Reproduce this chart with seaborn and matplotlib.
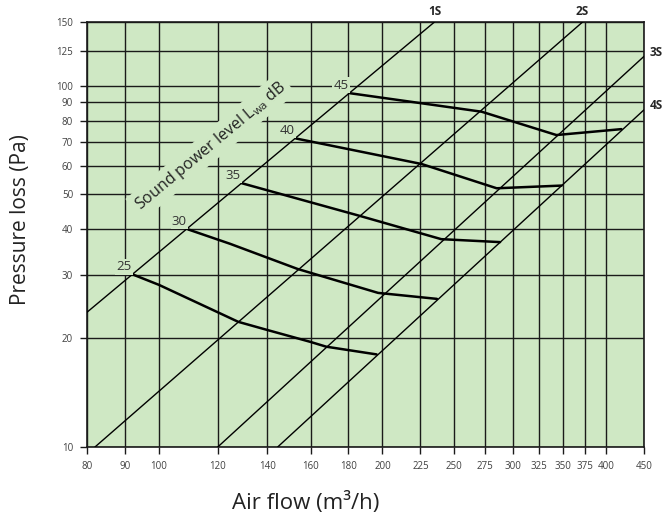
import numpy as np
import pandas as pd
import seaborn as sns
import matplotlib
matplotlib.use("Agg")
import matplotlib.pyplot as plt

# sound power level curves (air flow m3/h, pressure loss Pa)
levels = [25, 30, 35, 40, 45]
flow_25 = [92.3, 100, 120, 127.9, 139.7, 159.8, 168, 196.4]
loss_25 = [30.0, 28.1, 23.6, 22.2, 21.1, 19.55, 18.95, 18.04]
flow_30 = [109.5, 124.7, 153.7, 197.3, 236.8]
loss_30 = [40.0, 36.5, 31.1, 26.7, 25.7]
flow_35 = [129.3, 186.5, 240, 288]
loss_35 = [53.7, 43.6, 37.6, 36.9]
flow_40 = [153, 225.8, 285, 348.6]
loss_40 = [71.4, 60.7, 52.0, 52.9]
flow_45 = [180.8, 272, 343, 419.6]
loss_45 = [95.3, 84.7, 73.0, 75.8]

# damper setting lines 1S..4S
s_names = ["1S", "2S", "3S", "4S"]
s_flow_start = [80, 82, 120, 144.5]
s_loss_start = [23.6, 10, 10, 10]
s_flow_end = [235, 372, 450, 450]
s_loss_end = [150, 150, 120.5, 85.7]

x_ticks = [80, 90, 100, 120, 140, 160, 180, 200, 225, 250, 275, 300, 325, 350, 375, 400, 450]
y_ticks = [10, 20, 30, 40, 50, 60, 70, 80, 90, 100, 125, 150]

sns.set_style("ticks")
plt.rcParams["font.family"] = ["Open Sans", "DejaVu Sans"]
plt.rcParams["mathtext.fontset"] = "custom"
plt.rcParams["mathtext.rm"] = "Open Sans"
plt.rcParams["mathtext.it"] = "Open Sans:italic"

green = "#cfe8c4"
dark = "#1a1a1a"

fig = plt.figure(figsize=(6.63, 5.23), dpi=100)
ax = fig.add_axes([0.1312, 0.1453, 0.8401, 0.8126])
ax.set_facecolor(green)
ax.set_xscale("log")
ax.set_yscale("log")
ax.set_xlim(80, 450)
ax.set_ylim(10, 150)

for v in x_ticks:
    ax.axvline(v, color=dark, lw=1.0, zorder=1)
for v in y_ticks:
    ax.axhline(v, color=dark, lw=1.0, zorder=1)

# diagonal lines
diag = pd.DataFrame({
    "flow": s_flow_start + s_flow_end,
    "loss": s_loss_start + s_loss_end,
    "line": s_names + s_names,
})
sns.lineplot(data=diag, x="flow", y="loss", hue="line", palette=["black"] * 4,
             estimator=None, sort=False, lw=1.0, legend=False, ax=ax, zorder=3)

curves = pd.DataFrame({
    "flow": flow_25 + flow_30 + flow_35 + flow_40 + flow_45,
    "loss": loss_25 + loss_30 + loss_35 + loss_40 + loss_45,
    "level": [25] * len(flow_25) + [30] * len(flow_30) + [35] * len(flow_35)
             + [40] * len(flow_40) + [45] * len(flow_45),
})
sns.lineplot(data=curves, x="flow", y="loss", hue="level", palette=["black"] * 5,
             estimator=None, sort=False, lw=1.8, legend=False, ax=ax, zorder=4)

for lvl, fx, fy in zip(levels, [flow_25, flow_30, flow_35, flow_40, flow_45],
                       [loss_25, loss_30, loss_35, loss_40, loss_45]):
    ax.annotate(str(lvl), (fx[0], fy[0]), xytext=(-1, 1), textcoords="offset points",
                ha="right", va="bottom", fontsize=9.5, color="#333333", zorder=5,
                bbox=dict(boxstyle="square,pad=0.1", fc=green, ec="none"))

for name, fx, fy in zip(s_names, s_flow_end, s_loss_end):
    if fy >= 150:
        ax.annotate(name, (fx, fy), xytext=(0, 3), textcoords="offset points",
                    ha="center", va="bottom", fontsize=8.5, fontweight="bold",
                    annotation_clip=False)
    else:
        ax.annotate(name, (fx, fy), xytext=(4, 3), textcoords="offset points",
                    ha="left", va="center", fontsize=8.5, fontweight="bold",
                    annotation_clip=False)

ax.text(0.222, 0.708, r"Sound power level L$_{\mathrm{wa}}$ dB", transform=ax.transAxes,
        rotation=39.8, rotation_mode="anchor", ha="center", va="center",
        fontsize=11.5, color="#222222", zorder=5,
        bbox=dict(boxstyle="square,pad=0.25", fc=green, ec="none"))

ax.xaxis.set_minor_locator(matplotlib.ticker.NullLocator())
ax.yaxis.set_minor_locator(matplotlib.ticker.NullLocator())
ax.set_xticks(x_ticks)
ax.set_xticklabels([str(v) for v in x_ticks])
ax.set_yticks(y_ticks)
ax.set_yticklabels([str(v) for v in y_ticks])
ax.tick_params(length=5, width=1, color=dark, labelsize=7, labelcolor="#404040", pad=5)
for s in ax.spines.values():
    s.set_color(dark)
    s.set_linewidth(1.2)

ax.set_xlabel("Air flow (m³/h)", fontsize=16, color="#222222", va="center")
ax.set_ylabel("Pressure loss (Pa)", fontsize=15, color="#222222", va="center")
ax.xaxis.set_label_coords(0.393, -0.132)
ax.yaxis.set_label_coords(-0.120, 0.536)

fig.savefig("out.png", dpi=100)
